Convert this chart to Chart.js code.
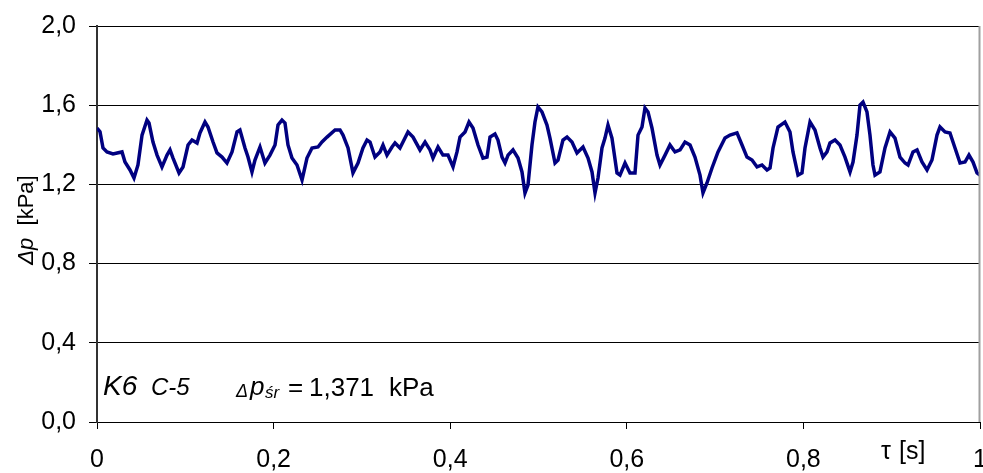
<!DOCTYPE html>
<html>
<head>
<meta charset="utf-8">
<script src="https://cdn.jsdelivr.net/npm/chart.js@4.4.1/dist/chart.umd.min.js"></script>
<style>
html,body{margin:0;padding:0;background:#fff;}
#wrap{width:983px;height:473px;position:relative;}
</style>
</head>
<body>
<div id="wrap"><canvas id="c" width="983" height="473"></canvas></div>
<script>
// time [s]
const tau = [0,0.0034,0.0068,0.0113,0.0181,0.0283,0.0317,0.0374,0.0419,0.0464,0.0510,0.0566,0.0589,0.0634,0.0680,0.0736,0.0793,0.0827,0.0861,0.0929,0.0974,
0.1031,0.1076,0.1133,0.1166,0.1223,0.1257,0.1314,0.1359,0.1416,0.1472,0.1529,0.1586,0.1619,0.1676,0.1710,0.1755,0.1789,0.1846,0.1902,0.1959,
0.2016,0.2050,0.2095,0.2129,0.2163,0.2208,0.2265,0.2322,0.2378,0.2435,0.2503,0.2548,0.2605,0.2696,0.2752,0.2786,0.2843,0.2899,0.2956,
0.3012,0.3058,0.3092,0.3148,0.3205,0.3239,0.3284,0.3341,0.3375,0.3431,0.3522,0.3579,0.3658,0.3715,0.3771,0.3805,0.3862,0.3918,0.3975,
0.4032,0.4077,0.4111,0.4168,0.4213,0.4258,0.4315,0.4371,0.4417,0.4451,0.4507,0.4541,0.4587,0.4621,0.4655,0.4711,0.4768,0.4813,0.4847,0.4881,0.4926,0.4960,0.4994,
0.5039,0.5096,0.5130,0.5187,0.5221,0.5277,0.5323,0.5379,0.5436,0.5504,0.5561,0.5606,0.5640,0.5674,0.5719,0.5753,0.5787,0.5832,0.5889,0.5923,0.5980,
0.6036,0.6093,0.6127,0.6172,0.6206,0.6240,0.6285,0.6342,0.6376,0.6433,0.6489,0.6546,0.6603,0.6659,0.6716,0.6772,0.6829,0.6863,0.6908,0.6965,
0.7033,0.7112,0.7169,0.7248,0.7305,0.7361,0.7418,0.7475,0.7531,0.7588,0.7622,0.7656,0.7712,0.7791,0.7848,0.7882,0.7939,0.7984,
0.8018,0.8075,0.8131,0.8188,0.8222,0.8267,0.8301,0.8358,0.8414,0.8471,0.8528,0.8562,0.8607,0.8641,0.8675,0.8720,0.8754,0.8788,0.8811,0.8867,0.8924,0.8981,
0.9037,0.9094,0.9151,0.9185,0.9241,0.9287,0.9343,0.9400,0.9456,0.9513,0.9547,0.9604,0.9660,0.9717,0.9774,0.9830,0.9875,0.9921,0.9966,1.0000];
// pressure drop [kPa]
const dp = [1.485,1.466,1.384,1.364,1.354,1.364,1.313,1.273,1.232,1.298,1.449,1.525,1.510,1.414,1.348,1.288,1.348,1.374,1.333,1.258,1.288,
1.399,1.424,1.409,1.460,1.515,1.490,1.414,1.359,1.338,1.308,1.364,1.465,1.475,1.384,1.338,1.263,1.323,1.389,1.308,1.348,
1.399,1.500,1.525,1.510,1.399,1.333,1.298,1.222,1.333,1.384,1.389,1.414,1.439,1.475,1.475,1.449,1.384,1.258,1.308,
1.384,1.424,1.414,1.338,1.364,1.399,1.348,1.389,1.409,1.384,1.465,1.439,1.374,1.414,1.374,1.333,1.389,1.348,1.348,
1.288,1.364,1.439,1.465,1.515,1.485,1.399,1.333,1.338,1.439,1.455,1.424,1.338,1.308,1.348,1.374,1.333,1.263,1.157,1.197,1.399,1.515,1.591,
1.566,1.500,1.434,1.308,1.323,1.424,1.439,1.414,1.359,1.389,1.333,1.263,1.157,1.232,1.384,1.434,1.500,1.434,1.258,1.247,1.308,
1.258,1.258,1.449,1.490,1.586,1.566,1.485,1.348,1.298,1.348,1.399,1.364,1.374,1.414,1.399,1.338,1.247,1.157,1.207,1.283,
1.364,1.434,1.449,1.460,1.399,1.338,1.323,1.288,1.298,1.273,1.283,1.384,1.490,1.515,1.465,1.364,1.247,1.258,
1.384,1.515,1.475,1.384,1.338,1.364,1.409,1.424,1.399,1.338,1.263,1.313,1.449,1.601,1.616,1.566,1.449,1.298,1.247,1.263,1.384,1.465,
1.434,1.338,1.308,1.298,1.364,1.374,1.313,1.273,1.323,1.449,1.490,1.465,1.460,1.384,1.308,1.313,1.348,1.313,1.258,1.247];

const xTickLabels = ['0','0,2','0,4','0,6','0,8','1'];
const yTickLabels = ['0,0','0,4','0,8','1,2','1,6','2,0'];
const meanText = '1,371';

const FONT = "'Liberation Sans', Arial, sans-serif";

const textPlugin = {
  id: 'texts',
  afterDraw(chart) {
    const ctx = chart.ctx;
    const a = chart.chartArea;
    ctx.save();
    // right border
    ctx.strokeStyle = '#a0a0a0';
    ctx.lineWidth = 2;
    ctx.beginPath();
    ctx.moveTo(a.right - 0.5, a.top);
    ctx.lineTo(a.right - 0.5, a.bottom);
    ctx.stroke();

    ctx.fillStyle = '#000';
    ctx.textBaseline = 'alphabetic';
    ctx.textAlign = 'left';
    ctx.font = "italic 28px " + FONT;
    ctx.fillText('K6', 103, 395);
    ctx.font = "italic 24px " + FONT;
    ctx.fillText('C-5', 151, 395);
    ctx.font = "italic 18px " + FONT;
    ctx.fillText('Δ', 236, 397);
    ctx.font = "italic 26px " + FONT;
    ctx.fillText('p', 250, 395);
    ctx.font = "italic 17px " + FONT;
    ctx.fillText('śr', 265, 398);
    ctx.font = "26px " + FONT;
    ctx.fillText('=', 288, 396);
    ctx.fillText(meanText, 309, 396);
    ctx.fillText('kPa', 389, 396);

    // x-axis title
    ctx.font = "25px " + FONT;
    ctx.fillText('τ', 881, 459);
    ctx.fillText('[s]', 899, 459);

    // y-axis title
    ctx.translate(27, 220);
    ctx.rotate(-Math.PI / 2);
    ctx.textBaseline = 'middle';
    ctx.font = "italic 22px " + FONT;
    const w1 = ctx.measureText('Δp').width;
    ctx.font = "22px " + FONT;
    const w2 = ctx.measureText('  [kPa]').width;
    const start = -(w1 + w2) / 2;
    ctx.font = "italic 22px " + FONT;
    ctx.fillText('Δp', start, 0);
    ctx.font = "22px " + FONT;
    ctx.fillText('  [kPa]', start + w1, 0);
    ctx.restore();
  }
};

const points = tau.map((t, i) => ({x: t, y: dp[i]}));

new Chart(document.getElementById('c'), {
  type: 'line',
  data: {
    datasets: [{
      data: points,
      borderColor: '#000080',
      borderWidth: 3.5,
      pointRadius: 0,
      tension: 0,
      fill: false
    }]
  },
  options: {
    responsive: false,
    animation: false,
    events: [],
    layout: { padding: { top: 26, right: 3, left: 0, bottom: 0 } },
    plugins: { legend: { display: false }, tooltip: { enabled: false } },
    scales: {
      x: {
        type: 'linear',
        min: 0, max: 1,
        afterFit(s) { s.height = 51; s.paddingLeft = 0; s.paddingRight = 0; },
        ticks: {
          stepSize: 0.2,
          color: '#000',
          font: { family: FONT, size: 25 },
          padding: 16,
          maxRotation: 0,
          autoSkip: false,
          callback: (v, i) => xTickLabels[i]
        },
        grid: { display: true, drawOnChartArea: false, drawTicks: true, tickLength: 7, color: '#000', lineWidth: 1 },
        border: { display: true, color: '#000', width: 1 }
      },
      y: {
        min: 0, max: 2,
        afterFit(s) { s.width = 97; s.paddingTop = 0; s.paddingBottom = 0; },
        ticks: {
          stepSize: 0.4,
          color: '#000',
          font: { family: FONT, size: 25 },
          padding: 13,
          autoSkip: false,
          callback: (v, i) => yTickLabels[i]
        },
        grid: { color: '#000', lineWidth: 1, tickLength: 8, drawTicks: true },
        border: { display: true, color: '#333', width: 2 }
      }
    }
  },
  plugins: [textPlugin]
});
</script>
</body>
</html>
